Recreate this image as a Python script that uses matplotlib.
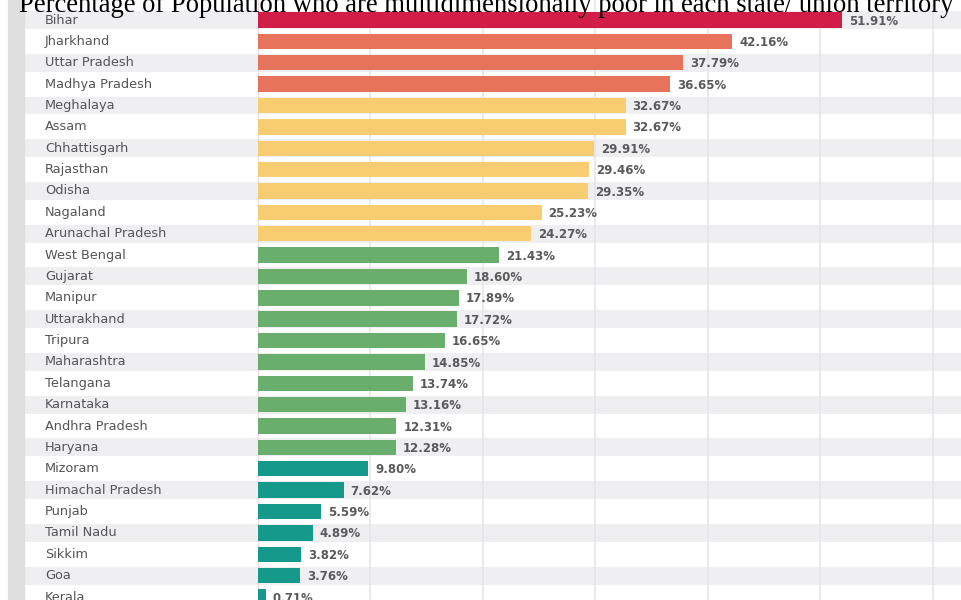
import matplotlib.pyplot as plt

# dados do gráfico
estados = ["Bihar", "Jharkhand", "Uttar Pradesh", "Madhya Pradesh", "Meghalaya", "Assam",
           "Chhattisgarh", "Rajasthan", "Odisha", "Nagaland", "Arunachal Pradesh",
           "West Bengal", "Gujarat", "Manipur", "Uttarakhand", "Tripura", "Maharashtra",
           "Telangana", "Karnataka", "Andhra Pradesh", "Haryana", "Mizoram",
           "Himachal Pradesh", "Punjab", "Tamil Nadu", "Sikkim", "Goa", "Kerala"]
pobreza = [51.91, 42.16, 37.79, 36.65, 32.67, 32.67, 29.91, 29.46, 29.35, 25.23, 24.27,
           21.43, 18.60, 17.89, 17.72, 16.65, 14.85, 13.74, 13.16, 12.31, 12.28, 9.80,
           7.62, 5.59, 4.89, 3.82, 3.76, 0.71]
grupos = [0, 1, 1, 1, 2, 2, 2, 2, 2, 2, 2, 3, 3, 3, 3, 3, 3, 3, 3, 3, 3,
          4, 4, 4, 4, 4, 4, 4]
cores_grupo = ["#d11d47", "#e8735b", "#f8cd72", "#6aae6e", "#14998a"]

titulo = "Percentage of Population who are multidimensionally poor in each state/ union territory"

fig = plt.figure(figsize=(9.62, 6.0), dpi=100)

# faixa cinza à esquerda
fig.patches.append(plt.Rectangle((8 / 962, 0), 16 / 962, 1, transform=fig.transFigure,
                                 color="#dedede", zorder=0))

ax = fig.add_axes([25 / 962, 0, 1 - 25 / 962, 1])
ax.set_xlim(-20.71, 62.58)
ax.set_ylim(27.14, -0.936)
ax.axis("off")

n = len(estados)
# faixas alternadas
for i in range(0, n, 2):
    ax.axhspan(i - 0.42, i + 0.42, color="#efeff1", zorder=0, lw=0)

# linhas de grade verticais
for g in range(10, 70, 10):
    ax.axvline(g, color="#e6e6e6", lw=1.2, zorder=1)
ax.axvline(0, color="#f0d8dc", lw=0.8, zorder=1)

cores = [cores_grupo[g] for g in grupos]
ax.barh(range(n), pobreza, height=0.72, color=cores, zorder=2)

for i, (nome, v) in enumerate(zip(estados, pobreza)):
    ax.text(-18.93, i, nome, va="center", ha="left", fontsize=9.3,
            family="DejaVu Sans", color="#555555", zorder=3)
    ax.text(v + 0.6, i + 0.05, f"{v:.2f}%", va="center", ha="left", fontsize=8.5,
            family="DejaVu Sans", fontweight="bold", color="#5a5a5a", zorder=3)

fig.text(486 / 962, 1 - 12 / 600, titulo, ha="center", va="baseline",
         family="Liberation Serif", fontsize=19.2, color="black")

plt.savefig("out.png", dpi=100)
